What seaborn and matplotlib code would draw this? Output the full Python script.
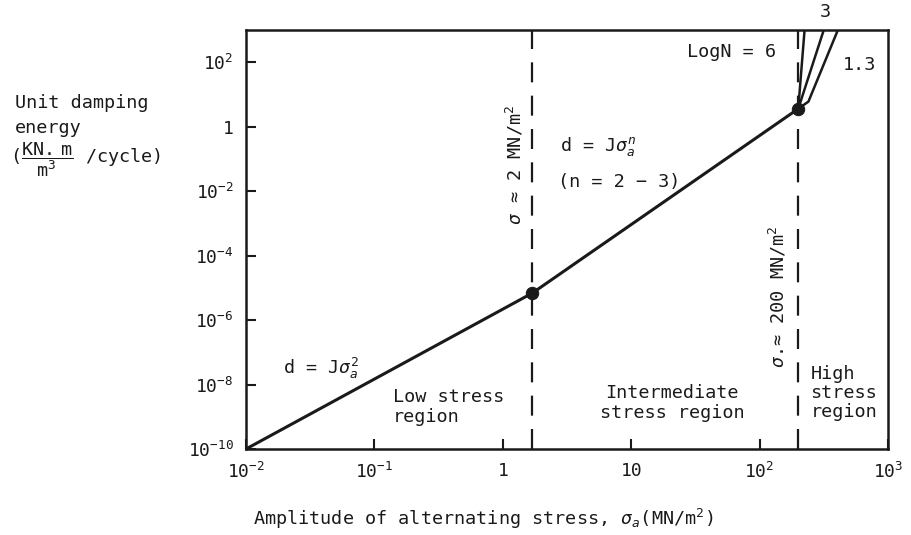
import matplotlib
matplotlib.use("Agg")
import matplotlib.pyplot as plt
import seaborn as sns
import pandas as pd

# ---- data ----
main_x = [0.01, 1.7, 200]
main_y = [1e-10, 6.9e-6, 3.6]
knee_x = [1.7, 200]
knee_y = [6.9e-6, 3.6]
curve_a_x = [200, 224]
curve_a_y = [3.6, 1000]
curve_b_x = [200, 316]
curve_b_y = [3.6, 1000]
curve_c_x = [200, 240, 407]
curve_c_y = [3.6, 6.0, 1000]
boundaries = [1.7, 200]
x_ticks = [1e-2, 1e-1, 1, 10, 1e2, 1e3]
x_tick_labels = [r"$10^{-2}$", r"$10^{-1}$", "1", "10", r"$10^{2}$", r"$10^{3}$"]
y_ticks = [1e-10, 1e-8, 1e-6, 1e-4, 1e-2, 1, 1e2]
y_tick_labels = [r"$10^{-10}$", r"$10^{-8}$", r"$10^{-6}$", r"$10^{-4}$",
                 r"$10^{-2}$", "1", r"$10^{2}$"]

sns.set_style("ticks")
plt.rcParams["font.family"] = ["DejaVu Sans Mono"]
plt.rcParams["mathtext.fontset"] = "custom"
plt.rcParams["mathtext.rm"] = "DejaVu Sans Mono"
plt.rcParams["mathtext.it"] = "DejaVu Sans Mono:italic"
plt.rcParams["mathtext.bf"] = "DejaVu Sans Mono:bold"

fig = plt.figure(figsize=(9.12, 5.35), dpi=100)
ax = fig.add_axes([246/912, 1-449/535, 642/912, 419/535])

ink = "#1a1a1a"
df_main = pd.DataFrame({"x": main_x, "y": main_y})
sns.lineplot(data=df_main, x="x", y="y", ax=ax, color=ink, lw=2.2, sort=False)
for cx, cy in [(curve_a_x, curve_a_y), (curve_b_x, curve_b_y), (curve_c_x, curve_c_y)]:
    sns.lineplot(x=cx, y=cy, ax=ax, color=ink, lw=1.8, sort=False)
sns.scatterplot(x=knee_x, y=knee_y, ax=ax, color=ink, s=80, edgecolor=ink, zorder=5)

for b in boundaries:
    ax.axvline(b, color=ink, lw=1.6, linestyle=(0, (9, 6)))

ax.set_xscale("log")
ax.set_yscale("log")
ax.set_xlim(1e-2, 1e3)
ax.set_ylim(1e-10, 1e3)
ax.set_xticks(x_ticks)
ax.set_xticklabels(x_tick_labels)
ax.set_yticks(y_ticks)
ax.set_yticklabels(y_tick_labels)
ax.minorticks_off()
ax.tick_params(direction="in", length=7, width=1.5, labelsize=13, color=ink,
               labelcolor=ink, pad=9)
for s in ax.spines.values():
    s.set_linewidth(1.8)
    s.set_color(ink)
ax.set_xlabel("")
ax.set_ylabel("")

fs = 13.3
T = ax.transAxes
ax.text(0.117, 0.193, r"d = J$\sigma_a^2$", transform=T, fontsize=fs, ha="center", va="center", color=ink)
ax.text(0.229, 0.10, "Low stress\nregion", transform=T, fontsize=fs, ha="left", va="center",
        color=ink, linespacing=1.15)
ax.text(0.664, 0.11, "Intermediate\nstress region", transform=T, fontsize=fs, ha="center",
        va="center", color=ink, linespacing=1.15)
ax.text(0.879, 0.134, "High\nstress\nregion", transform=T, fontsize=fs, ha="left", va="center",
        color=ink, linespacing=1.05)
ax.text(0.489, 0.721, r"d = J$\sigma_a^n$", transform=T, fontsize=fs, ha="left", va="center", color=ink)
ax.text(0.486, 0.637, "(n = 2 − 3)", transform=T, fontsize=fs, ha="left", va="center", color=ink)
ax.text(0.419, 0.678, r"$\sigma$ ≈ 2 MN/m$^2$", transform=T, fontsize=fs, ha="center",
        va="center", rotation=90, color=ink)
ax.text(0.829, 0.363, r"$\sigma$.≈ 200 MN/m$^2$", transform=T, fontsize=fs, ha="center",
        va="center", rotation=90, color=ink)
ax.text(0.757, 0.947, "LogN = 6", transform=T, fontsize=fs, ha="center", va="center", color=ink)
ax.text(0.956, 0.916, "1.3", transform=T, fontsize=fs, ha="center", va="center", color=ink)
ax.text(0.902, 1.043, "3", transform=T, fontsize=fs, ha="center", va="center", color=ink,
        clip_on=False)

fig.text(15/912, 1-103/535, "Unit damping", fontsize=fs, ha="left", va="center", color=ink)
fig.text(15/912, 1-128/535, "energy", fontsize=fs, ha="left", va="center", color=ink)
fig.text(10/912, 1-160/535, r"($\dfrac{\mathrm{KN.\ m}}{\mathrm{m^3}}$ /cycle)", fontsize=fs,
         ha="left", va="center", color=ink)
fig.text(483/912, 1-519/535, r"Amplitude of alternating stress, $\sigma_a$(MN/m$^2$)",
         fontsize=fs, ha="center", va="center", color=ink)

fig.savefig("out.png", dpi=100, facecolor="white")
